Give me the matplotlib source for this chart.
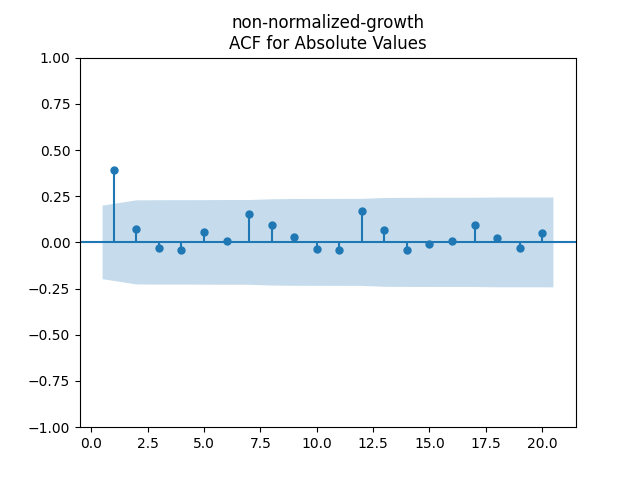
#Plot: ACF for absolute values (non-normalized-growth)
import numpy as np
import matplotlib
matplotlib.use("Agg")
import matplotlib.pyplot as plt

lags = np.arange(1, 21)
acf_vals = [0.392, 0.073, -0.030, -0.041, 0.056, 0.008, 0.154, 0.094, 0.029, -0.036,
            -0.041, 0.170, 0.067, -0.041, -0.009, 0.008, 0.094, 0.024, -0.030, 0.051]
#half width of the confidence band at each lag
conf_half = [0.199, 0.2275, 0.2284, 0.2285, 0.2288, 0.2293, 0.2293, 0.2334, 0.2349, 0.2350,
             0.2353, 0.2355, 0.2404, 0.2411, 0.2414, 0.2414, 0.2414, 0.2429, 0.2430, 0.2431]

fig, ax = plt.subplots(figsize=(6.4, 4.8), dpi=100)
ax.vlines(lags, [0], acf_vals)
ax.axhline()
ax.margins(0.05)
ax.plot(lags, acf_vals, marker="o", markersize=5, linestyle="None")
ax.set_title("non-normalized-growth\nACF for Absolute Values")
ax.set_ylim(-1, 1)

band_x = lags.astype(float)
band_x[0] -= 0.5
band_x[-1] += 0.5
half = np.array(conf_half)
ax.fill_between(band_x, -half, half, alpha=0.25, linewidth=0)

fig.savefig("out.png")
